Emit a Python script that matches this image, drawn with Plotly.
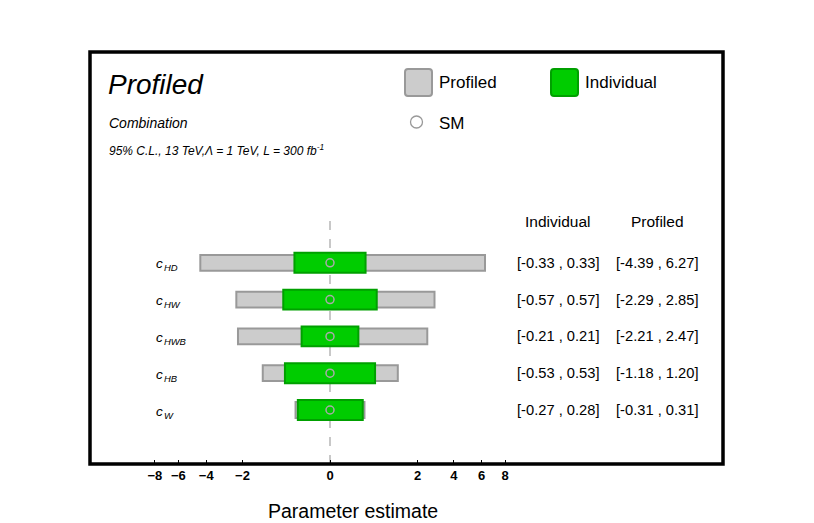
import numpy as np
import plotly.graph_objects as go

# ---------------- data ----------------
params = ["HD", "HW", "HWB", "HB", "W"]
ind_lo = [-0.33, -0.57, -0.21, -0.53, -0.27]
ind_hi = [0.33, 0.57, 0.21, 0.53, 0.28]
prof_lo = [-4.39, -2.29, -2.21, -1.18, -0.31]
prof_hi = [6.27, 2.85, 2.47, 1.20, 0.31]
sm_val = [0, 0, 0, 0, 0]
tick_vals = [-8, -6, -4, -2, 0, 2, 4, 6, 8]

# ---------------- helpers ----------------
W, H = 814, 523
OFF = 8  # page body margin
L, R, T, B = 90, 723, 52, 464  # plot box in screen pixels


def sq(v):
    v = np.asarray(v, dtype=float)
    return np.sign(v) * np.sqrt(np.abs(v))


def px(x):
    return (x - L) / (R - L)


def py(y):
    return (B - y) / (B - T)


ypos = list(range(len(params), 0, -1))  # 5..1

FONT = "Liberation Sans, Arial, Helvetica, sans-serif"

fig = go.Figure()

# profiled (grey) bars
p_lo = sq(prof_lo)
p_hi = sq(prof_hi)
fig.add_trace(go.Bar(
    y=ypos, x=p_hi - p_lo, base=p_lo, orientation="h", width=0.43,
    marker=dict(color="#cccccc", line=dict(color="#999999", width=2)),
    showlegend=False, hoverinfo="skip"))

# individual (green) bars
i_lo = sq(ind_lo)
i_hi = sq(ind_hi)
fig.add_trace(go.Bar(
    y=ypos, x=i_hi - i_lo, base=i_lo, orientation="h", width=0.54,
    marker=dict(color="#00cc00", line=dict(color="#00a000", width=2)),
    showlegend=False, hoverinfo="skip"))

# SM points
fig.add_trace(go.Scatter(
    x=sq(sm_val), y=ypos, mode="markers",
    marker=dict(symbol="circle-open", size=8, color="#aaaaaa", line=dict(width=1.5)),
    showlegend=False, hoverinfo="skip"))

shapes = []
# dashed zero line (behind bars)
shapes.append(dict(type="line", xref="x", yref="y", x0=0, x1=0, y0=-0.47, y1=6.32,
                   line=dict(color="#c8c8c8", width=2, dash="dash"), layer="below"))
# frame
shapes.append(dict(type="rect", xref="paper", yref="paper", x0=0, x1=1, y0=0, y1=1,
                   line=dict(color="black", width=3.5)))


def rounded(x0, y0, x1, y1, r=3):
    X = lambda v: px(v)
    Y = lambda v: py(v)
    return (f"M {X(x0+r)},{Y(y0)} L {X(x1-r)},{Y(y0)} Q {X(x1)},{Y(y0)} {X(x1)},{Y(y0+r)} "
            f"L {X(x1)},{Y(y1-r)} Q {X(x1)},{Y(y1)} {X(x1-r)},{Y(y1)} "
            f"L {X(x0+r)},{Y(y1)} Q {X(x0)},{Y(y1)} {X(x0)},{Y(y1-r)} "
            f"L {X(x0)},{Y(y0+r)} Q {X(x0)},{Y(y0)} {X(x0+r)},{Y(y0)} Z")


shapes.append(dict(type="path", xref="paper", yref="paper", path=rounded(405, 69, 432, 96),
                   fillcolor="#cccccc", line=dict(color="#999999", width=2)))
shapes.append(dict(type="path", xref="paper", yref="paper", path=rounded(551, 69, 578, 96),
                   fillcolor="#00cc00", line=dict(color="#00a000", width=2)))
shapes.append(dict(type="circle", xref="paper", yref="paper",
                   x0=px(410.5), x1=px(422.5), y0=py(128), y1=py(116),
                   line=dict(color="#999999", width=1.3)))

ann = []


def text(x, y, s, size, anchor="left", color="black"):
    ann.append(dict(x=px(x), y=py(y), xref="paper", yref="paper",
                    text=s, showarrow=False, xanchor=anchor, yanchor="middle",
                    font=dict(family=FONT, size=size, color=color)))


text(106, 85, "<i>Profiled</i>", 28)
text(107, 123, "<i>Combination</i>", 14)
text(107, 150, "<i>95% C.L., 13 TeV,Λ = 1 TeV, L = 300 fb<sup>-1</sup></i>", 12)
text(437, 83, "Profiled", 17)
text(583, 83, "Individual", 17)
text(437, 123, "SM", 17)
text(558, 221, "Individual", 15.5, anchor="center")
text(657, 221, "Profiled", 15.5, anchor="center")

for k, p in enumerate(params):
    yv = ypos[k]
    ann.append(dict(x=px(154), y=yv, xref="paper", yref="y", yshift=-2,
                    text=f"<i>c</i>\u200a<sub><i>{p}</i></sub>", showarrow=False,
                    xanchor="left", yanchor="middle",
                    font=dict(family=FONT, size=13.5, color="black")))
    ann.append(dict(x=px(558), y=yv, xref="paper", yref="y",
                    text=f"[{ind_lo[k]:.2f} , {ind_hi[k]:.2f}]", showarrow=False,
                    xanchor="center", yanchor="middle",
                    font=dict(family=FONT, size=14.7, color="black")))
    ann.append(dict(x=px(657), y=yv, xref="paper", yref="y",
                    text=f"[{prof_lo[k]:.2f} , {prof_hi[k]:.2f}]", showarrow=False,
                    xanchor="center", yanchor="middle",
                    font=dict(family=FONT, size=14.7, color="black")))

# axis title
text(353, 511, "Parameter estimate", 19.5, anchor="center")

scale = 61.9  # px per sqrt unit
xmin = (L - 330) / scale
xmax = (R - 330) / scale
sp = 36.8
ymin = 1 - (B - 410) / sp
ymax = 1 + (410 - T) / sp

fig.update_layout(
    width=W, height=H,
    margin=dict(l=L - OFF, r=W - (R - OFF), t=T - OFF, b=H - (B - OFF), pad=0),
    paper_bgcolor="white", plot_bgcolor="white",
    barmode="overlay",
    shapes=shapes, annotations=ann,
    font=dict(family=FONT),
    xaxis=dict(range=[xmin, xmax], showgrid=False, zeroline=False, showline=False,
               tickmode="array", tickvals=list(sq(tick_vals)),
               ticktext=[f"<b>{('−' if v < 0 else '')}{abs(v)}</b>" for v in tick_vals],
               ticks="inside", ticklen=4, tickwidth=1, tickcolor="black",
               ticklabelstandoff=2,
               tickfont=dict(family=FONT, size=13, color="black")),
    yaxis=dict(range=[ymin, ymax], showgrid=False, zeroline=False, showline=False,
               showticklabels=False, ticks=""),
)

fig.write_html("out.html")
